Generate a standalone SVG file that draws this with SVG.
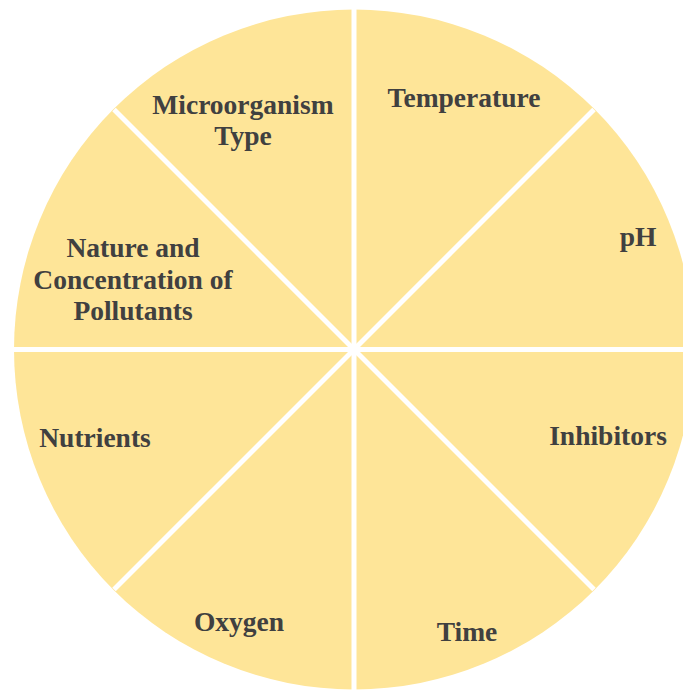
<svg xmlns="http://www.w3.org/2000/svg" width="683" height="690" viewBox="0 0 683 690">
<style>
.seg{fill:#FEE598;}
.sep{stroke:#FFFFFF;stroke-width:5;fill:none;}
.lbl{font-family:"Liberation Serif","Times New Roman",serif;font-weight:bold;font-size:27.5px;fill:#404040;text-anchor:middle;}
</style>
<rect width="683" height="690" fill="#FFFFFF"/>
<circle class="seg" cx="354" cy="349.5" r="340"/>
<g id="connectors">
<line class="sep" x1="354" y1="0" x2="354" y2="690"/>
<line class="sep" x1="0" y1="349.5" x2="683" y2="349.5"/>
<line class="sep" x1="114" y1="109.5" x2="594" y2="589.5"/>
<line class="sep" x1="594" y1="109.5" x2="114" y2="589.5"/>
</g>
<g id="temperature"><text class="lbl" x="464" y="107">Temperature</text></g>
<g id="ph"><text class="lbl" x="638" y="246">pH</text></g>
<g id="inhibitors"><text class="lbl" x="608" y="445">Inhibitors</text></g>
<g id="time"><text class="lbl" x="467" y="641">Time</text></g>
<g id="oxygen"><text class="lbl" x="239" y="631">Oxygen</text></g>
<g id="nutrients"><text class="lbl" x="95" y="447">Nutrients</text></g>
<g id="nature"><text class="lbl" x="133" y="257">Nature and</text><text class="lbl" x="133" y="288.5">Concentration of</text><text class="lbl" x="133" y="320">Pollutants</text></g>
<g id="microorganism"><text class="lbl" x="243" y="114">Microorganism</text><text class="lbl" x="243" y="145">Type</text></g>
</svg>
